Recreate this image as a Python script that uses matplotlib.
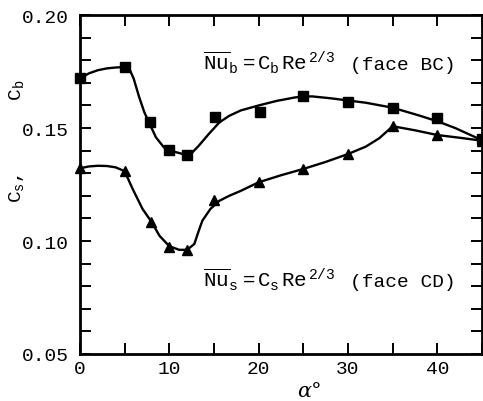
import numpy as np
import matplotlib
matplotlib.use("Agg")
import matplotlib.pyplot as plt
from matplotlib.ticker import MultipleLocator, FixedLocator, NullFormatter

plt.rcParams['font.family'] = ['Liberation Mono', 'DejaVu Sans Mono']
plt.rcParams['mathtext.fontset'] = 'custom'
plt.rcParams['mathtext.rm'] = 'Liberation Mono'
plt.rcParams['mathtext.it'] = 'Liberation Mono'

# Measured points, face BC (squares)
alpha_b = [0, 5, 7.8, 10, 12, 15.1, 20.1, 25, 30, 35, 40, 45]
cb = [0.172, 0.177, 0.1525, 0.1404, 0.1382, 0.1547, 0.157, 0.1643,
      0.1617, 0.159, 0.1543, 0.145]

# Measured points, face CD (triangles)
alpha_s = [0, 5, 8, 10, 12, 15, 20, 25, 30, 35, 40, 45]
cs = [0.1322, 0.1309, 0.1085, 0.0975, 0.0962, 0.1182, 0.1262, 0.1319,
      0.1385, 0.1508, 0.1469, 0.1444]

# Faired curves
curve_b_x = [0, 1, 2, 3, 4, 5, 5.5, 6.0, 6.6, 7.2, 7.8, 8.5, 9.4, 10.4, 11.5,
             12.4, 13.3, 14.4, 15.6, 16.7, 18, 20, 22, 24, 25, 26, 28,
             30, 32, 35, 38, 40, 42, 45]
curve_b_y = [0.172, 0.1742, 0.1756, 0.1764, 0.1768, 0.1770, 0.1764, 0.1720,
             0.1640, 0.157, 0.1518, 0.1459, 0.1414, 0.1397, 0.1385, 0.1385,
             0.1422, 0.1473, 0.1525, 0.1554, 0.1578, 0.1600, 0.1620, 0.1635,
             0.1640, 0.1640, 0.1632, 0.1622, 0.1612, 0.1590, 0.1555, 0.1530,
             0.1500, 0.1446]

curve_s_x = [0, 1, 2, 3, 4, 5, 5.9, 7.0, 8, 8.9, 10, 11.1, 12, 12.8, 13.3,
             13.7, 14.6, 15.6, 16.7, 18, 20, 22.5, 25, 27.5, 30, 32, 33.5,
             35, 37.5, 40, 42.5, 45]
curve_s_y = [0.1322, 0.1330, 0.1333, 0.1332, 0.1326, 0.1309, 0.123, 0.1142,
             0.1085, 0.1023, 0.0977, 0.0961, 0.0961, 0.0987, 0.1046, 0.109,
             0.1142, 0.1178, 0.1200, 0.1222, 0.1260, 0.1291, 0.1319, 0.1350,
             0.1385, 0.1418, 0.1455, 0.1508, 0.1490, 0.1469, 0.1457, 0.1444]

fig = plt.figure(figsize=(4.83, 4.02), dpi=100)
ax = fig.add_axes([0.1656, 0.117, 0.8324, 0.843])

ax.plot(curve_b_x, curve_b_y, color='black', lw=1.7, clip_on=False)
ax.plot(curve_s_x, curve_s_y, color='black', lw=1.7, clip_on=False)
ax.plot(alpha_b, cb, 's', color='black', ms=7, clip_on=False)
ax.plot(alpha_s, cs, '^', color='black', ms=7, clip_on=False)

ax.set_xlim(0, 45)
ax.set_ylim(0.05, 0.20)

ax.xaxis.set_major_locator(FixedLocator([0, 10, 20, 30, 40]))
ax.xaxis.set_minor_locator(MultipleLocator(5))
ax.yaxis.set_major_locator(MultipleLocator(0.05))
ax.yaxis.set_minor_locator(MultipleLocator(0.01))
ax.yaxis.set_major_formatter(lambda v, p: f"{v:.2f}")
ax.xaxis.set_minor_formatter(NullFormatter())

ax.tick_params(which='both', direction='in', top=True, right=True,
               length=8, width=1.4, labelsize=14)
ax.tick_params(axis='y', pad=8)
ax.tick_params(axis='x', pad=4)
for s in ax.spines.values():
    s.set_linewidth(2)

ax.set_xlabel('α°', fontsize=15, fontfamily='DejaVu Serif', fontstyle='italic')
ax.xaxis.label.set_va('baseline')
ax.xaxis.set_label_coords(0.57, -0.125)
ax.set_ylabel(r'C$_\mathrm{s}$,      C$_\mathrm{b}$', fontsize=14)
ax.yaxis.set_label_coords(-0.135, 0.63)

# equation labels: formula part and face name placed separately
ax.text(13.8, 0.1761,
        r'$\overline{\mathrm{Nu}}_\mathrm{b}\,\mathrm{=C}_\mathrm{b}\,\mathrm{Re}^{\,\mathrm{2/3}}$',
        fontsize=15, ha='left', va='baseline')
ax.text(30.2, 0.1761, '(face BC)', fontsize=14, ha='left', va='baseline')
ax.text(13.8, 0.080,
        r'$\overline{\mathrm{Nu}}_\mathrm{s}\,\mathrm{=C}_\mathrm{s}\,\mathrm{Re}^{\,\mathrm{2/3}}$',
        fontsize=15, ha='left', va='baseline')
ax.text(30.2, 0.080, '(face CD)', fontsize=14, ha='left', va='baseline')

fig.savefig('out.png', dpi=100)
